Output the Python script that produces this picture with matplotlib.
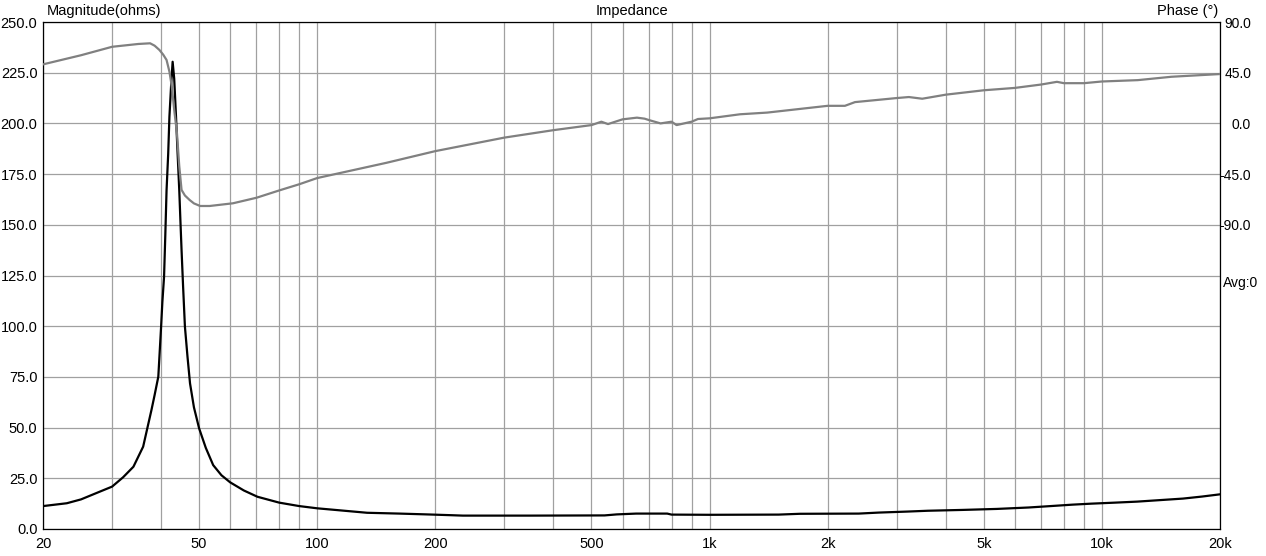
import numpy as np
import matplotlib
matplotlib.use("Agg")
import matplotlib.pyplot as plt
from matplotlib.ticker import FixedLocator, NullFormatter
import matplotlib.transforms as mtransforms

plt.rcParams['font.family'] = ['Liberation Sans', 'DejaVu Sans']

# impedance magnitude (ohms)
mag_freq = [20, 23, 25, 27.9, 30, 32, 34, 36, 37.8, 38.5, 39.35, 40, 40.3, 40.7, 41.0,
            41.3, 41.7, 42.0, 42.4, 42.8, 43.2, 43.66, 44.0, 44.5, 44.8, 45.1, 45.5,
            46.0, 46.7, 47.4, 48.5, 50, 52, 54.3, 57, 60, 65, 70.4, 80, 90, 100, 134,
            162, 190, 220, 235, 250, 350, 540, 580, 650, 780, 800, 1000, 1500, 1700,
            2400, 2700, 3200, 3600, 4400, 5400, 6500, 7400, 8400, 9400, 10800,
            12300, 14200, 16100, 18000, 20000]
mag_ohms = [11.3, 12.7, 14.6, 18.4, 20.9, 25.5, 30.7, 40.6, 58.7, 66, 75.1, 99.8, 112, 124.4, 145,
            167, 185, 203.3, 218, 230.4, 222, 203.3, 188, 167, 152, 137.6, 120,
            99.8, 85, 71.8, 60, 49.6, 40, 31.5, 26.5, 23.0, 19, 15.9, 13.0, 11.3, 10.2, 8.0,
            7.6, 7.2, 6.8, 6.6, 6.6, 6.6, 6.7, 7.2, 7.6, 7.6, 7.1, 7.0, 7.1, 7.5,
            7.6, 8.1, 8.6, 9.0, 9.4, 9.9, 10.6, 11.3, 12.0, 12.5, 13.0,
            13.5, 14.3, 15.0, 16.0, 17.1]

# impedance phase (degrees)
phase_freq = [20, 25, 30, 35, 37.5, 38.5, 39.6, 40.5, 41.3, 42, 42.6, 43.2, 43.9, 44.5,
              45.1, 46, 47.3, 48.5, 50.3, 53.2,
              61, 70, 80, 90, 100, 150, 200, 300, 400, 500, 530, 551, 600, 653, 683,
              700, 750, 800, 824, 900, 934, 1000, 1196, 1403, 2000, 2213, 2348, 3000,
              3221, 3484, 4000, 5000, 6000, 7000, 7682, 8000, 9000, 10000, 12345,
              15047, 20000]
phase_deg = [52.4, 60.5, 68, 70.5, 71.1, 69, 65.2, 61, 56.3, 46, 32.6, 12, -8.8, -38,
             -59, -64, -68, -71, -73.3, -73.3,
             -70.9, -66, -59.5, -54, -48.5, -35, -24.6, -12.6, -6, -1.5, 1.5, -0.6, 3.6, 5.1, 4.2,
             3, 0, 1.5, -1.5, 1.5, 3.9, 4.5, 8.1, 9.6, 15.6, 15.6, 18.9, 22.5,
             23.4, 21.9, 25.5, 29.4, 31.5, 34.5, 36.9, 35.7, 35.7, 37.2, 38.4,
             41.4, 43.8]

x_ticks = [20, 50, 100, 200, 500, 1000, 2000, 5000, 10000, 20000]
x_labels = ['20', '50', '100', '200', '500', '1k', '2k', '5k', '10k', '20k']
x_grid = [20, 30, 40, 50, 60, 70, 80, 90, 100, 200, 300, 400, 500, 600, 700, 800, 900,
          1000, 2000, 3000, 4000, 5000, 6000, 7000, 8000, 9000, 10000, 20000]
mag_ticks = [0, 25, 50, 75, 100, 125, 150, 175, 200, 225, 250]
phase_ticks = [-90, -45, 0, 45, 90]

W, H = 1266, 556
fig = plt.figure(figsize=(W / 100, H / 100), dpi=100)
ax = fig.add_axes([43 / W, (H - 529) / H, (1220 - 43) / W, (529 - 22) / H])

grid_col = '#a0a0a0'
ax.set_xscale('log')
ax.set_xlim(20, 20000)
ax.set_ylim(0, 250)
ax.xaxis.remove_overlapping_locs = False
ax.xaxis.set_major_locator(FixedLocator(x_ticks))
ax.set_xticklabels(x_labels)
ax.xaxis.set_minor_locator(FixedLocator(x_grid))
ax.xaxis.set_minor_formatter(NullFormatter())
ax.set_yticks(mag_ticks)
ax.set_yticklabels([f'{v:.1f}' for v in mag_ticks])
ax.grid(True, which='minor', axis='x', color=grid_col, lw=0.9)
ax.grid(True, which='major', axis='y', color=grid_col, lw=0.9)
ax.tick_params(which='both', length=0)
ax.tick_params(axis='y', pad=4, labelsize=10.5)
ax.tick_params(axis='x', pad=6, labelsize=10.5)
for s in ax.spines.values():
    s.set_color('black')
    s.set_linewidth(0.9)

ax.plot(mag_freq, mag_ohms, color='black', lw=1.6, zorder=3)

ax2 = ax.twinx()
ax2.set_ylim(-360, 90)
ax2.set_yticks(phase_ticks)
ax2.set_yticklabels([f'{v:.1f}' for v in phase_ticks])
ax2.tick_params(length=0, pad=22.5, labelsize=10)
for lab in ax2.get_yticklabels():
    lab.set_horizontalalignment('right')
for s in ax2.spines.values():
    s.set_visible(False)
ax2.plot(phase_freq, phase_deg, color='#808080', lw=1.6)

trans = mtransforms.blended_transform_factory(ax2.transAxes, ax2.transData)
ax2.text(1.0 + 3 / (1220 - 43), -135, 'Avg:0', transform=trans,
         ha='left', va='top', fontsize=10)

fig.text(47 / W, 1 - 11 / H, 'Magnitude(ohms)', ha='left', va='center', fontsize=10.5)
fig.text(632 / W, 1 - 11 / H, 'Impedance', ha='center', va='center', fontsize=10.5)
fig.text(1218 / W, 1 - 11 / H, 'Phase (°)', ha='right', va='center', fontsize=10.5)

fig.savefig('out.png', dpi=100)
